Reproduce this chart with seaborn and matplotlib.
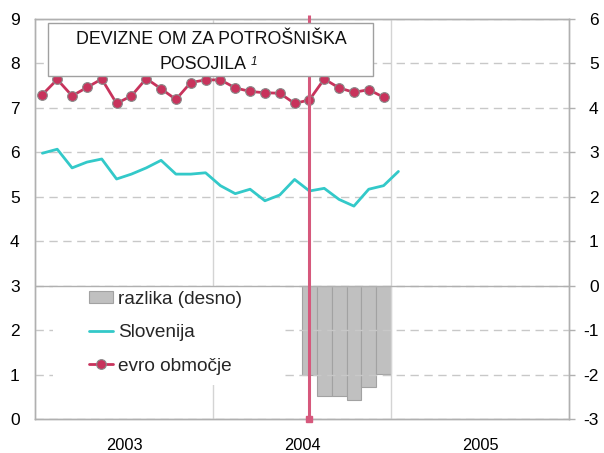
import numpy as np
import pandas as pd
import matplotlib
matplotlib.use("Agg")
import matplotlib.pyplot as plt
import seaborn as sns
from matplotlib.patches import Rectangle, Patch
from matplotlib.lines import Line2D

# ---------------- data ----------------
years = ["2003", "2004", "2005"]
months_per_year = 12
# euro area (left axis), Jan 2003 - Dec 2004
evro = [7.30, 7.64, 7.27, 7.46, 7.65, 7.10, 7.27, 7.66, 7.43, 7.19, 7.57, 7.63,
        7.63, 7.45, 7.37, 7.34, 7.33, 7.10, 7.18, 7.65, 7.45, 7.35, 7.41, 7.24]
# Slovenia (left axis), Jan 2003 - Jan 2005
slovenija = [5.98, 6.07, 5.65, 5.78, 5.85, 5.40, 5.51, 5.65, 5.82, 5.51, 5.51, 5.54,
             5.25, 5.07, 5.17, 4.91, 5.04, 5.39, 5.13, 5.19, 4.94, 4.79, 5.17, 5.25,
             5.57]
# difference (right axis), Jul 2004 - Dec 2004
razlika = [-2.02, -2.48, -2.48, -2.57, -2.27, -1.98]
razlika_start = 18          # index of Jul 2004
marker_month = 18           # vertical marker at Jul 2004
left_ticks = list(range(0, 10))
right_ticks = list(range(-3, 7))
labels = ["razlika (desno)", "Slovenija", "evro območje"]
title_lines = ["DEVIZNE OM ZA POTROŠNIŠKA", "POSOJILA", "1"]

# ---------------- style ----------------
sns.set_theme(style="white")
plt.rcParams["font.family"] = ["Liberation Sans", "DejaVu Sans"]

C_TEAL = "#33c9c9"
C_RED = "#c8335c"
C_VLINE = "#d6587c"
C_BAR = "#c0c0c0"
C_BAREDGE = "#a2a2a2"
C_SPINE = "#b0b0b0"
C_GRID = "#c8c8c8"

fig = plt.figure(figsize=(6.04, 4.53), dpi=100)
fig.patch.set_facecolor("white")
ax = fig.add_axes([35 / 604, 34 / 453, 534 / 604, 400 / 453])
ax2 = ax.twinx()

df_evro = pd.DataFrame({"m": np.arange(len(evro)), "v": evro})
df_slo = pd.DataFrame({"m": np.arange(len(slovenija)), "v": slovenija})
df_raz = pd.DataFrame({"m": np.arange(len(razlika)) + razlika_start, "v": razlika})

# bars on right axis
sns.barplot(data=df_raz, x="m", y="v", ax=ax2, native_scale=True, width=1.0,
            color=C_BAR, saturation=1, edgecolor=C_BAREDGE, linewidth=0.8)

# lines on left axis
sns.lineplot(data=df_slo, x="m", y="v", ax=ax, color=C_TEAL, lw=2.0, zorder=3)
sns.lineplot(data=df_evro, x="m", y="v", ax=ax, color=C_RED, lw=2.0, marker="o",
             markersize=7, markeredgecolor="#8a8a8a", markeredgewidth=0.8, zorder=3)

ax.set_zorder(ax2.get_zorder() + 1)
ax.patch.set_visible(False)

n_months = months_per_year * len(years)
ax.set_xlim(-0.5, n_months - 0.5)
ax.set_ylim(left_ticks[0], left_ticks[-1])
ax2.set_ylim(right_ticks[0], right_ticks[-1])
ax.set_xlabel("")
ax.set_ylabel("")
ax2.set_xlabel("")
ax2.set_ylabel("")

# grids
ax.set_yticks(left_ticks)
ax.set_yticklabels([str(t) for t in left_ticks])
ax.yaxis.grid(True, ls=(0, (6, 4)), color=C_GRID, lw=1)
year_centers = [months_per_year * i + (months_per_year - 1) / 2 for i in range(len(years))]
year_bounds = [months_per_year * i - 0.5 for i in range(1, len(years))]
ax.set_xticks(year_centers)
ax.set_xticklabels(years)
ax.set_xticks(year_bounds, minor=True)
ax.grid(True, axis="x", which="minor", color="#d4d4d4", lw=1, ls="-")
ax.grid(False, axis="x", which="major")

ax2.set_yticks(right_ticks)
ax2.set_yticklabels([str(t) for t in right_ticks])
ax2.grid(False)

# zero line of right axis
l0, l1 = ax.get_ylim()
r0, r1 = ax2.get_ylim()
zero_left = l0 + (0 - r0) * (l1 - l0) / (r1 - r0)
ax.axhline(zero_left, color=C_SPINE, lw=1, zorder=6)

# spines
for a in (ax, ax2):
    for s in a.spines.values():
        s.set_color(C_SPINE)
        s.set_linewidth(1)

ax.tick_params(axis="y", left=True, length=0, pad=11, labelsize=12.5, labelcolor="black")
ax.tick_params(axis="x", which="both", bottom=False, length=0, pad=14, labelsize=11.8,
               labelcolor="black")
ax2.tick_params(axis="y", right=True, length=4.3, width=1, color=C_SPINE, pad=17,
                labelsize=12.5, labelcolor="black")
for lab in ax2.get_yticklabels():
    lab.set_horizontalalignment("right")

# vertical marker line
ax.plot([marker_month, marker_month], [l0, l1 + 0.1], color=C_VLINE, lw=2.2,
        zorder=6.5, clip_on=False, solid_capstyle="butt")
ax.plot([marker_month], [l0], marker="s", ms=5, color=C_VLINE, zorder=6.5, clip_on=False)

# title box
ax.add_patch(Rectangle((13 / 534, 343 / 400), 325 / 534, 53 / 400, transform=ax.transAxes,
                       facecolor="white", edgecolor="#a0a0a0", lw=1, zorder=7))
ax.text(0.3305, 0.950, title_lines[0], transform=ax.transAxes, ha="center", va="center",
        fontsize=12.8, color="#111111", zorder=8)
t2 = ax.text(0.3155, 0.887, title_lines[1], transform=ax.transAxes, ha="center", va="center",
             fontsize=12.8, color="#111111", zorder=8)
ax.annotate(title_lines[2], xy=(1, 0.98), xycoords=t2, xytext=(3, 0),
            textcoords="offset points", ha="left", va="top", fontsize=8.5,
            style="italic", color="#111111", zorder=8)

# legend background + legend
ax.add_patch(Rectangle((18 / 534, 34 / 400), 227 / 534, 98 / 400, transform=ax.transAxes,
                       facecolor="white", edgecolor="none", zorder=4))
handles = [Patch(facecolor=C_BAR, edgecolor=C_BAREDGE, lw=0.8),
           Line2D([], [], color=C_TEAL, lw=2.0),
           Line2D([], [], color=C_RED, lw=2.0, marker="o", ms=7,
                  markeredgecolor="#8a8a8a", markeredgewidth=0.8)]
leg = ax.legend(handles, labels, loc="upper left",
                bbox_to_anchor=((89 - 35) / 534, (419 - 290.5) / 400),
                frameon=False, borderpad=0, borderaxespad=0, handlelength=1.26,
                handleheight=0.63, handletextpad=0.28, labelspacing=0.87, fontsize=13.7)
leg.set_zorder(5)

fig.savefig("out.png", dpi=100)
